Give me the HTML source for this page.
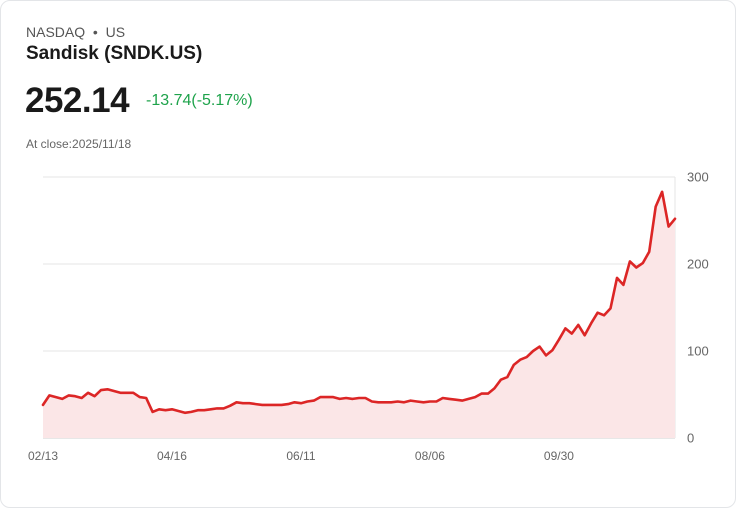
<!DOCTYPE html>
<html><head><meta charset="utf-8"><style>
body{margin:0;background:#fff;font-family:"Liberation Sans",sans-serif;}
.card{position:absolute;left:0;top:0;width:734px;height:506px;border:1px solid #e3e5e8;border-radius:10px;background:#fff;}
.t{position:absolute;white-space:nowrap;}
</style></head><body>
<div class="card">
<div class="t" style="left:25px;top:23px;font-size:14px;color:#555;">NASDAQ &nbsp;•&nbsp; US</div>
<div class="t" style="left:25px;top:42px;font-size:19px;font-weight:bold;color:#1a1a1a;">Sandisk (SNDK.US)</div>
<div class="t" style="left:24px;top:80px;font-size:35px;font-weight:bold;color:#1a1a1a;letter-spacing:-0.5px;">252.14</div>
<div class="t" style="left:145px;top:91px;font-size:16px;color:#1ea34b;">-13.74(-5.17%)</div>
<div class="t" style="left:25px;top:136px;font-size:12px;color:#666;">At close:2025/11/18</div>
<svg id="chart" width="736" height="508" style="position:absolute;left:-1px;top:-1px;"></svg>
</div>
<script>
const values=[38,49,47,45,49,48,46,52,48,55,56,54,52,52,52,47,46,30,33,32,33,31,29,30,32,32,33,34,34,37,41,40,40,39,38,38,38,
38,39,41,40,42,43,47,47,47,45,46,45,46,46,42,41,41,41,42,41,43,42,41,42,42,46,45,44,43,45,47,51,51,57,67,70,
84,90,93,100,105,95,101,113,126,120,130,118,132,144,141,149,184,176,203,196,201,214,266,283,243,252];
const yTicks=[0,100,200,300];
const xTickIdx=[0,20,40,60,80];
const xTickLabels=["02/13","04/16","06/11","08/06","09/30"];
const svg=document.getElementById('chart');
const NS="http://www.w3.org/2000/svg";
const x0=43,x1=675,y0=438,y300=177;
const xs=i=>x0+(x1-x0)*i/(values.length-1);
const ys=v=>y0-(y0-y300)*v/300;
function mk(tag,attrs){const e=document.createElementNS(NS,tag);for(const k in attrs)e.setAttribute(k,attrs[k]);svg.appendChild(e);return e;}
yTicks.forEach(v=>{
 const l=mk('line',{x1:x0,x2:x1,y1:ys(v),y2:ys(v),stroke:v===0?'#cfcfcf':'#e6e6e6','stroke-width':1});
 
 
 const t=mk('text',{x:687,y:ys(v)+4.5,'font-size':13,fill:'#666','font-family':'Liberation Sans, sans-serif'});
 t.textContent=v;
 
 
});
const vl=mk('line',{x1:x1,x2:x1,y1:y300,y2:y0,stroke:'#e6e6e6','stroke-width':1});


xTickIdx.forEach((idx,k)=>{
 const t=mk('text',{x:xs(idx),y:460,'font-size':12,fill:'#666','text-anchor':'middle','font-family':'Liberation Sans, sans-serif'});
 t.textContent=xTickLabels[k];
 
 
});
let d='';values.forEach((v,i)=>{d+=(i?'L':'M')+xs(i).toFixed(1)+','+ys(v).toFixed(1);});
const area=mk('path',{d:d+'L'+xs(values.length-1)+','+y0+'L'+x0+','+y0+'Z',fill:'#fbe6e7'});


const line=mk('path',{d:d,fill:'none',stroke:'#dc2626','stroke-width':2.6,'stroke-linejoin':'round','stroke-linecap':'round'});


</script>
</body></html>
